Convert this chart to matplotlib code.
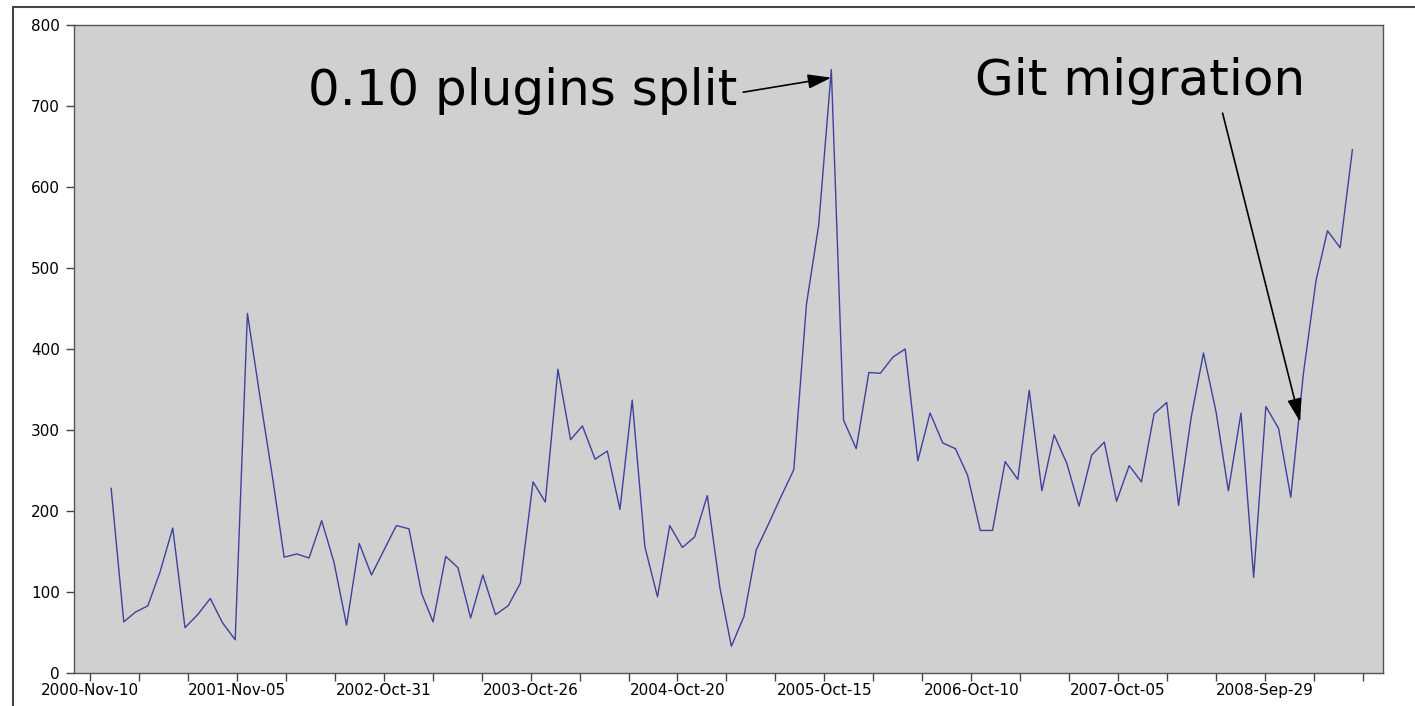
import datetime as dt
import pandas as pd
import matplotlib
matplotlib.use("Agg")
import matplotlib.pyplot as plt
import matplotlib.dates as mdates
from matplotlib.patches import Rectangle

# monthly counts, Jan 2001 .. May 2009
start_month = "2001-01-01"
counts = [
    228, 63, 75, 83, 125, 179, 56, 72, 92, 62, 41, 444,
    340, 240, 143, 147, 142, 188, 137, 59, 160, 121, 152, 182,
    178, 98, 63, 144, 130, 68, 121, 72, 83, 111, 236, 211,
    375, 288, 305, 264, 274, 202, 337, 156, 94, 182, 155, 168,
    219, 105, 33, 70, 152, 185, 218, 251, 455, 553, 745, 312,
    277, 371, 370, 390, 400, 262, 321, 284, 277, 244, 176, 176,
    261, 239, 349, 225, 294, 259, 206, 269, 285, 212, 256, 236,
    320, 334, 207, 316, 395, 322, 225, 321, 118, 329, 302, 217,
    370, 485, 546, 525, 646,
]
dates = pd.date_range(start_month, periods=len(counts), freq="MS")

# axis ticks: every 120 days from 2000-11-10, labelled every third
tick_start = dt.date(2000, 11, 10)
tick_step_days = 120
n_ticks = 27
x_min = dt.date(2000, 10, 2)
x_max = dt.date(2009, 7, 15)

notes = ["0.10 plugins split", "Git migration"]
note_targets = [(dt.date(2005, 11, 1), 735), (dt.date(2008, 12, 24), 310)]

W, H = 1415, 706
fig = plt.figure(figsize=(W / 100, H / 100), dpi=100)
fig.patch.set_facecolor("white")
ax = fig.add_axes([74 / W, 1 - 673 / H, 1309 / W, 648 / H])
ax.set_facecolor("#d0d0d0")

ax.plot(dates, counts, color="#40409e", lw=1.0)

ax.set_xlim(x_min, x_max)
ax.set_ylim(0, 800)
ax.set_yticks(range(0, 801, 100))

all_ticks = [tick_start + dt.timedelta(days=tick_step_days * k) for k in range(n_ticks)]
ax.set_xticks(all_ticks[::3])
ax.set_xticks([t for i, t in enumerate(all_ticks) if i % 3], minor=True)
ax.xaxis.set_major_formatter(mdates.DateFormatter("%Y-%b-%d"))

for s in ax.spines.values():
    s.set_color("#555555")
    s.set_linewidth(1.0)
ax.tick_params(axis="both", which="both", direction="out", length=6,
               width=1, color="#444444", labelsize=11)
ax.tick_params(axis="x", which="both", pad=1.5)
ax.tick_params(axis="y", pad=4)

arrow_style = "-|>,head_length=1.3,head_width=0.4"
ax.annotate(notes[0], xy=note_targets[0], xycoords="data",
            xytext=(0.179, 0.877), textcoords="axes fraction",
            ha="left", va="baseline", fontsize=36,
            arrowprops=dict(arrowstyle=arrow_style, mutation_scale=11,
                            color="black", lw=1.2, relpos=(1.0, 0.45),
                            shrinkA=2, shrinkB=0))
ax.annotate(notes[1], xy=note_targets[1], xycoords="data",
            xytext=(0.688, 0.892), textcoords="axes fraction",
            ha="left", va="baseline", fontsize=36,
            arrowprops=dict(arrowstyle=arrow_style, mutation_scale=11,
                            color="black", lw=1.2, relpos=(0.745, 0.0),
                            shrinkA=4, shrinkB=0))

# outer frame of the original screenshot
fig.patches.append(Rectangle((13 / W, -0.1), 1.2, 1.1 - 7 / H,
                             transform=fig.transFigure, fill=False,
                             edgecolor="#444444", lw=1.5, clip_on=False))

fig.savefig("out.png", dpi=100)
